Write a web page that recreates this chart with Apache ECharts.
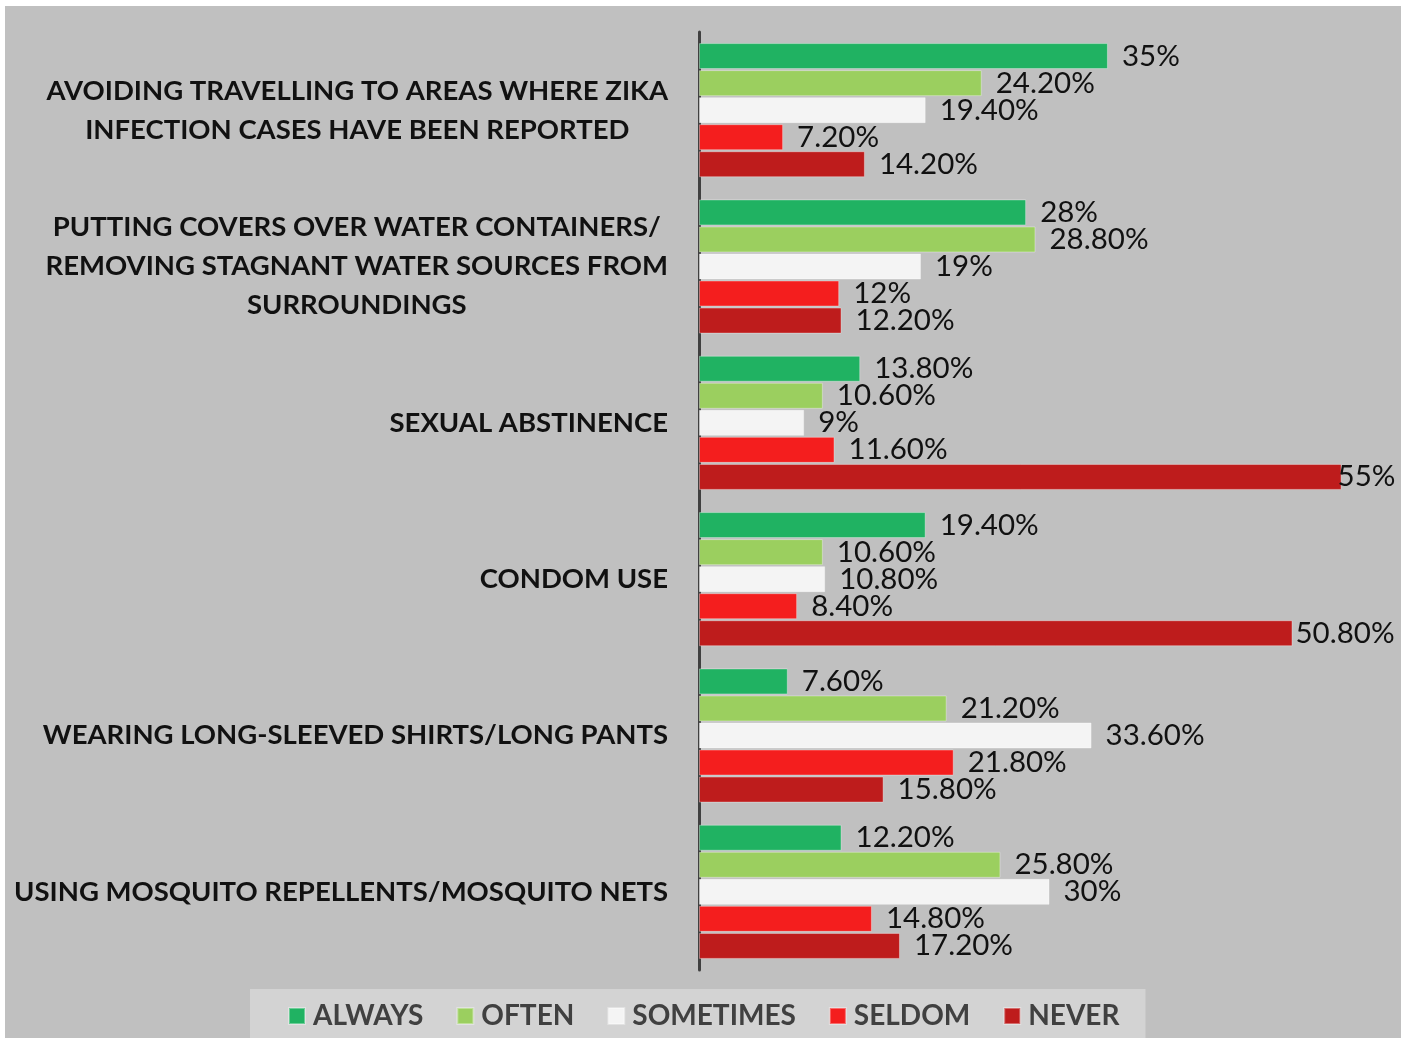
<!DOCTYPE html>
<html>
<head>
<meta charset="utf-8">
<script src="https://cdn.jsdelivr.net/npm/echarts@6.0.0/dist/echarts.min.js"></script>
<style>
  html, body { margin: 0; padding: 0; background: #ffffff; }
  #chart { position: absolute; left: 5px; top: 6px; width: 1396px; height: 1032px; }
</style>
</head>
<body>
<div id="chart"></div>
<script>
// Categories, top to bottom
const categories = [
  "AVOIDING TRAVELLING TO AREAS WHERE ZIKA\nINFECTION CASES HAVE BEEN REPORTED",
  "PUTTING COVERS OVER WATER CONTAINERS/\nREMOVING STAGNANT WATER SOURCES FROM\nSURROUNDINGS",
  "SEXUAL ABSTINENCE",
  "CONDOM USE",
  "WEARING LONG-SLEEVED SHIRTS/LONG PANTS",
  "USING MOSQUITO REPELLENTS/MOSQUITO NETS"
];

// Series values (%), same order as categories
const always    = [35, 28, 13.8, 19.4, 7.6, 12.2];
const often     = [24.2, 28.8, 10.6, 10.6, 21.2, 25.8];
const sometimes = [19.4, 19, 9, 10.8, 33.6, 30];
const seldom    = [7.2, 12, 11.6, 8.4, 21.8, 14.8];
const never     = [14.2, 12.2, 55, 50.8, 15.8, 17.2];

const seriesNames = ["ALWAYS", "OFTEN", "SOMETIMES", "SELDOM", "NEVER"];
const seriesData = [always, often, sometimes, seldom, never];
const colors = ["#20b262", "#9bcf5f", "#f4f4f4", "#f41e1e", "#be1c1c"];

const fmt = v => (Number.isInteger(v) ? v : v.toFixed(2)) + "%";

const chart = echarts.init(document.getElementById("chart"), null, { renderer: "canvas" });

// long bars: labels squeezed toward the bar end, as in the original
const toItems = arr => arr.map(v => {
  if (v > 52) return { value: v, label: { distance: -4 } };
  if (v > 45) return { value: v, label: { distance: 3 } };
  return v;
});

const option = {
  backgroundColor: "#c0c0c0",
  animation: false,
  grid: { left: 694, right: 1, top: 26, bottom: 68, containLabel: false },
  xAxis: {
    type: "value",
    min: 0,
    max: 60,
    show: false
  },
  yAxis: {
    type: "category",
    inverse: true,
    offset: 3,
    data: categories,
    axisLine: { show: true, lineStyle: { color: "#404040", width: 3 } },
    axisTick: { show: false },
    axisLabel: {
      margin: 28,
      fontFamily: "Lato",
      fontWeight: "bold",
      fontSize: 27.5,
      color: "#111111",
      lineHeight: 39,
      formatter: v => v.split("\n").map(l => "{c|" + l + "}").join("\n"),
      rich: {
        c: { align: "center", fontFamily: "Lato", fontWeight: "bold", fontSize: 27.5, color: "#111111", lineHeight: 39 }
      }
    }
  },
  legend: {
    data: seriesNames,
    left: 245,
    top: 983,
    padding: [13, 26, 13, 38],
    backgroundColor: "#d3d3d3",
    itemWidth: 16,
    itemHeight: 16,
    itemGap: 33,
    icon: "rect",
    textStyle: { fontFamily: "Lato", fontWeight: "bold", fontSize: 28, color: "#404040", padding: [0, 0, 0, 3] }
  },
  series: seriesNames.map((name, i) => ({
    name: name,
    type: "bar",
    data: toItems(seriesData[i]),
    barWidth: 26,
    barGap: "4%",
    itemStyle: { color: colors[i], borderColor: "rgba(255,255,255,0.35)", borderWidth: 1 },
    label: {
      show: true,
      position: "right",
      distance: 14,
      fontFamily: "Lato",
      fontSize: 29.5,
      color: "#111111",
      formatter: p => fmt(p.value)
    }
  }))
};

chart.setOption(option);
window.addEventListener("resize", chart.resize);
</script>
</body>
</html>
